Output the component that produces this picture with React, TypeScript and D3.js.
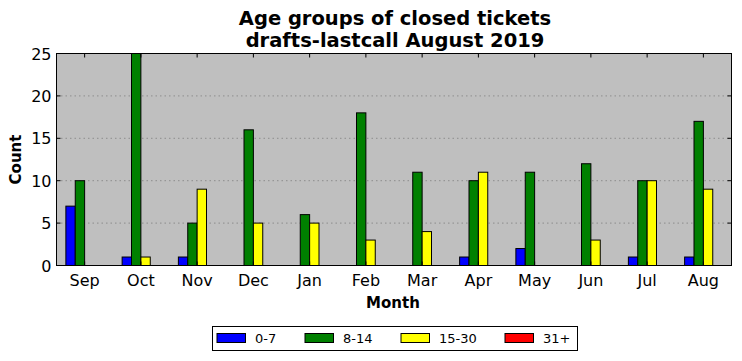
import React from "react";
import * as d3 from "d3";

const months = ["Sep", "Oct", "Nov", "Dec", "Jan", "Feb", "Mar", "Apr", "May", "Jun", "Jul", "Aug"];
const seriesNames = ["0-7", "8-14", "15-30", "31+"];
const seriesColors = ["#0000ff", "#008000", "#ffff00", "#ff0000"];
const age0to7 = [7, 1, 1, 0, 0, 0, 0, 1, 2, 0, 1, 1];
const age8to14 = [10, 25, 5, 16, 6, 18, 11, 10, 11, 12, 10, 17];
const age15to30 = [0, 1, 9, 5, 5, 3, 4, 11, 0, 3, 10, 9];
const age31plus = [0, 0, 0, 0, 0, 0, 0, 0, 0, 0, 0, 0];
const yTicks = [0, 5, 10, 15, 20, 25];

const series = [age0to7, age8to14, age15to30, age31plus];

const W = 742, H = 361;
const left = 56.5, right = 731.5, top = 53.5, bottom = 265.5;
const font = "DejaVu Sans, sans-serif";

export default function App() {
  const x = d3.scaleLinear().domain([-0.5, 11.5]).range([left, right]);
  const y = d3.scaleLinear().domain([0, 25]).range([bottom, top]);
  const bw = 1 / 6;
  const legendItems = [
    { px: 217, tx: 255 },
    { px: 305, tx: 343 },
    { px: 401, tx: 439 },
    { px: 505, tx: 543 },
  ];
  return (
    <svg width={W} height={H} style={{ position: "absolute", left: 0, top: 0 }} fontFamily={font}>
      <rect x={0} y={0} width={W} height={H} fill="#ffffff" />
      <text x={395} y={25} textAnchor="middle" fontSize={19.5} fontWeight="bold">Age groups of closed tickets</text>
      <text x={395} y={47} textAnchor="middle" fontSize={19.5} fontWeight="bold">drafts-lastcall August 2019</text>
      <rect x={left} y={top} width={right - left} height={bottom - top} fill="#bfbfbf" />
      {yTicks.filter(t => t > 0 && t < 25).map(t => (
        <line key={"g" + t} x1={left} x2={right} y1={y(t)} y2={y(t)} stroke="#808080" strokeWidth={0.8} strokeDasharray="1.5,3" />
      ))}
      {series.map((vals, si) =>
        vals.map((v, mi) => {
          const x0 = x(mi + (si - 2) * bw);
          const x1 = x(mi + (si - 1) * bw);
          return (
            <rect key={si + "-" + mi} x={x0} y={y(v)} width={x1 - x0} height={y(0) - y(v)}
              fill={seriesColors[si]} stroke="#000" strokeWidth={1} />
          );
        })
      )}
      <rect x={left} y={top} width={right - left} height={bottom - top} fill="none" stroke="#000" strokeWidth={1} />
      {months.map((m, i) => (
        <g key={m}>
          <line x1={x(i)} x2={x(i)} y1={bottom} y2={bottom - 4} stroke="#000" />
          <line x1={x(i)} x2={x(i)} y1={top} y2={top + 4} stroke="#000" />
          <text x={x(i)} y={bottom + 20} textAnchor="middle" fontSize={16}>{m}</text>
        </g>
      ))}
      {yTicks.map(t => (
        <g key={"y" + t}>
          <line x1={left} x2={left + 4} y1={y(t)} y2={y(t)} stroke="#000" />
          <line x1={right} x2={right - 4} y1={y(t)} y2={y(t)} stroke="#000" />
          <text x={left - 5} y={y(t) + 6} textAnchor="end" fontSize={16}>{t}</text>
        </g>
      ))}
      <text x={393} y={308} textAnchor="middle" fontSize={15} fontWeight="bold">Month</text>
      <text transform={`translate(21,${(top + bottom) / 2}) rotate(-90)`} textAnchor="middle" fontSize={15} fontWeight="bold">Count</text>
      <rect x={212.5} y={326.5} width={365} height={24} fill="#fff" stroke="#000" strokeWidth={1} />
      {legendItems.map((it, i) => (
        <g key={seriesNames[i]}>
          <rect x={it.px} y={333.5} width={28.5} height={9} fill={seriesColors[i]} stroke="#000" strokeWidth={1} />
          <text x={it.tx} y={343} fontSize={13}>{seriesNames[i]}</text>
        </g>
      ))}
    </svg>
  );
}
